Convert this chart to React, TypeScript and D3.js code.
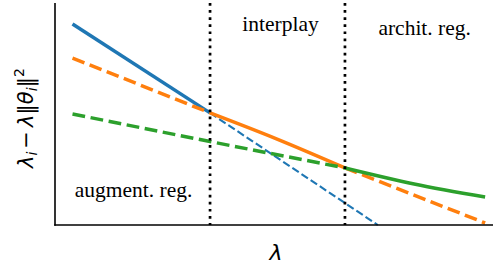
import React from 'react'
import * as d3 from 'd3'

// lambda axis runs 0..100, value axis 0..100 (no ticks shown)
const blueSolid: [number, number][] = [[4.0, 90.5], [35.4, 50.5]]
const blueDash: [number, number][] = [[35.4, 50.5], [73.7, 0]]
const orangeDashA: [number, number][] = [[4.0, 75.2], [35.4, 50.5]]
const orangeSolid: [number, number][] = [[35.4, 50.5], [50.7, 38.7], [66.2, 25.7]]
const orangeDashB: [number, number][] = [[66.2, 25.7], [98.2, 0.9]]
const greenDash: [number, number][] = [[4.0, 50], [35.4, 37.6], [66.2, 25.7]]
const greenSolid: [number, number][] = [[66.2, 25.7], [82, 18.5], [98.2, 12.6]]
const boundaries = [35.4, 66.2]
const regionLabels = [
  { text: 'augment. reg.', x: 4.5, y: 12.5, anchor: 'start' },
  { text: 'interplay', x: 51.5, y: 87.5, anchor: 'middle' },
  { text: 'archit. reg.', x: 84.4, y: 85.5, anchor: 'middle' },
]

const W = 493
const H = 266

export default function App() {
  const svgRef = React.useRef<SVGSVGElement>(null)

  React.useEffect(() => {
    const svg = d3.select(svgRef.current)
    svg.selectAll('*').remove()

    const x = d3.scaleLinear().domain([0, 100]).range([55, 493])
    const y = d3.scaleLinear().domain([0, 100]).range([225, 3])

    const line = d3.line<[number, number]>()
      .x((d) => x(d[0]))
      .y((d) => y(d[1]))
      .curve(d3.curveMonotoneX)

    const series = [
      { pts: blueSolid, color: '#1f77b4', w: 3.5, dash: null },
      { pts: blueDash, color: '#1f77b4', w: 2.1, dash: '7.7,3.3' },
      { pts: orangeDashA, color: '#ff7f0e', w: 3.5, dash: '12.8,5.6' },
      { pts: orangeSolid, color: '#ff7f0e', w: 3.5, dash: null },
      { pts: orangeDashB, color: '#ff7f0e', w: 3.5, dash: '12.8,5.6' },
      { pts: greenDash, color: '#2ca02c', w: 3.5, dash: '12.8,5.6' },
      { pts: greenSolid, color: '#2ca02c', w: 3.5, dash: null },
    ]

    svg.append('g')
      .selectAll('path')
      .data(series)
      .join('path')
      .attr('d', (d) => line(d.pts))
      .attr('fill', 'none')
      .attr('stroke', (d) => d.color)
      .attr('stroke-width', (d) => d.w)
      .attr('stroke-dasharray', (d) => d.dash)

    svg.append('g')
      .selectAll('line')
      .data(boundaries)
      .join('line')
      .attr('x1', (d) => x(d))
      .attr('x2', (d) => x(d))
      .attr('y1', y(100))
      .attr('y2', y(0))
      .attr('stroke', '#000')
      .attr('stroke-width', 2.7)
      .attr('stroke-dasharray', '2.7,4.4')

    // spines
    svg.append('line')
      .attr('x1', x(0)).attr('x2', x(0))
      .attr('y1', y(100)).attr('y2', y(0) + 0.75)
      .attr('stroke', '#000').attr('stroke-width', 1.6)
    svg.append('line')
      .attr('x1', x(0) - 0.75).attr('x2', x(100))
      .attr('y1', y(0)).attr('y2', y(0))
      .attr('stroke', '#000').attr('stroke-width', 1.6)

    svg.append('g')
      .attr('font-family', '"Liberation Serif", serif')
      .attr('font-size', 21.5)
      .selectAll('text')
      .data(regionLabels)
      .join('text')
      .attr('x', (d) => x(d.x))
      .attr('y', (d) => y(d.y))
      .attr('text-anchor', (d) => d.anchor)
      .text((d) => d.text)

    // x label
    svg.append('text')
      .attr('x', 276)
      .attr('y', 260)
      .attr('text-anchor', 'middle')
      .attr('font-family', '"DejaVu Sans", sans-serif')
      .attr('font-style', 'italic')
      .attr('font-size', 22)
      .text('λ')

    // y label (reads bottom to top, starts at y≈168)
    const yl = svg.append('text')
      .attr('transform', `translate(33,168) rotate(-90)`)
      .attr('text-anchor', 'start')
      .attr('font-family', '"DejaVu Sans", sans-serif')
      .attr('font-size', 21)
    yl.append('tspan').attr('font-style', 'italic').text('λ')
    yl.append('tspan').attr('font-style', 'italic').attr('font-size', 14).attr('dy', 4).text('i')
    yl.append('tspan').attr('dy', -4).attr('dx', 3).text('−')
    yl.append('tspan').attr('font-style', 'italic').attr('dx', 4).text('λ')
    yl.append('tspan').text('‖')
    yl.append('tspan').attr('font-style', 'italic').text('θ')
    yl.append('tspan').attr('font-style', 'italic').attr('font-size', 14).attr('dy', 4).text('i')
    yl.append('tspan').attr('dy', -4).text('‖')
    yl.append('tspan').attr('font-size', 14).attr('dy', -9).text('2')
  }, [])

  return (
    <svg
      ref={svgRef}
      width={W}
      height={H}
      style={{ position: 'absolute', left: 0, top: 0, background: '#fff' }}
    />
  )
}
